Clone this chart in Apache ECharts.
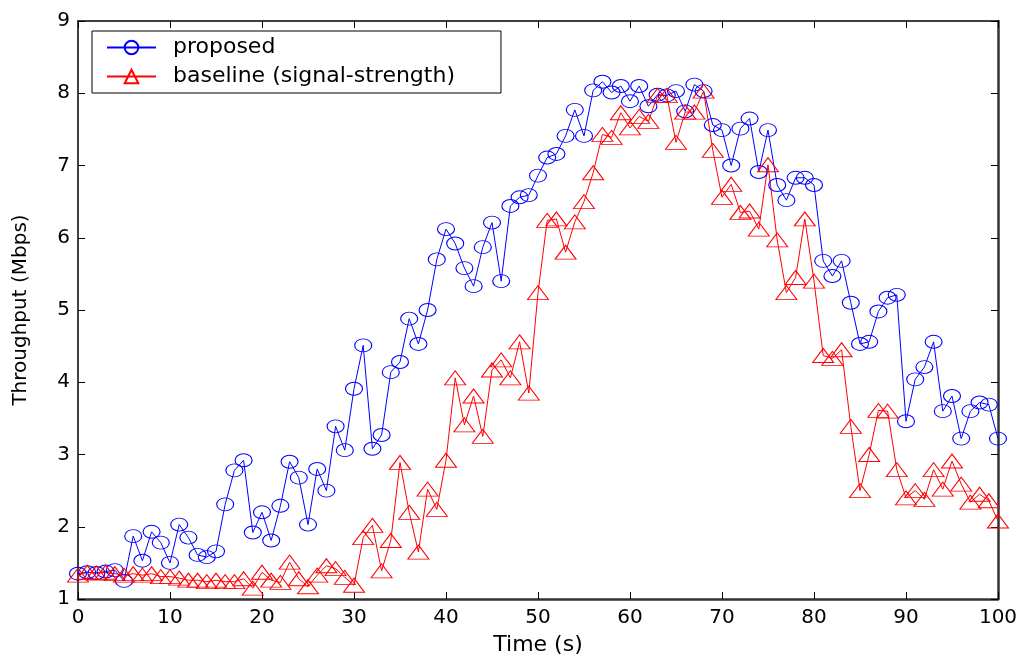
<!DOCTYPE html>
<html>
<head>
<meta charset="utf-8">
<script src="https://cdn.jsdelivr.net/npm/echarts@6/dist/echarts.min.js"></script>
<style>
html,body{margin:0;padding:0;background:#fff;}
#chart{width:1024px;height:661px;}
</style>
</head>
<body>
<div id="chart"></div>
<script>
var timeSteps = [];
for (var t = 0; t <= 100; t++) timeSteps.push(t);

var proposed = [
1.35,1.37,1.36,1.38,1.40,1.25,1.87,1.53,1.93,1.78,
1.50,2.03,1.85,1.61,1.58,1.66,2.31,2.78,2.92,1.92,
2.20,1.81,2.29,2.90,2.68,2.03,2.80,2.50,3.39,3.06,
3.91,4.51,3.08,3.27,4.14,4.28,4.88,4.53,5.00,5.70,
6.12,5.92,5.58,5.33,5.87,6.21,5.40,6.44,6.56,6.59,
6.86,7.11,7.16,7.41,7.77,7.41,8.04,8.16,8.01,8.10,
7.89,8.10,7.82,7.98,7.97,8.03,7.75,8.12,8.03,7.56,
7.49,7.00,7.51,7.65,6.91,7.49,6.73,6.52,6.83,6.83,
6.73,5.68,5.47,5.68,5.10,4.53,4.56,4.98,5.17,5.21,
3.46,4.04,4.21,4.56,3.60,3.81,3.22,3.60,3.72,3.69,
3.22
];

var baseline = [
1.33,1.37,1.36,1.37,1.35,1.33,1.35,1.33,1.35,1.31,
1.31,1.29,1.26,1.26,1.24,1.26,1.24,1.24,1.28,1.15,
1.37,1.26,1.23,1.51,1.28,1.17,1.33,1.46,1.42,1.30,
1.19,1.85,2.02,1.39,1.81,2.89,2.20,1.65,2.52,2.24,
2.92,4.06,3.41,3.81,3.25,4.17,4.31,4.06,4.56,3.85,
5.24,6.24,6.26,5.80,6.22,6.50,6.90,7.43,7.39,7.73,
7.52,7.68,7.61,7.97,7.97,7.32,7.74,7.74,8.03,7.21,
6.56,6.74,6.35,6.37,6.12,7.01,5.97,5.24,5.45,6.26,
5.40,4.37,4.33,4.45,3.39,2.50,3.00,3.61,3.60,2.79,
2.40,2.50,2.38,2.79,2.52,2.91,2.59,2.34,2.45,2.36,
2.08
];

var seriesNames = ['proposed', 'baseline (signal-strength)'];
var xTitle = 'Time (s)';
var yTitle = 'Throughput (Mbps)';

function pairs(xs, ys) {
  return xs.map(function (x, i) { return [x, ys[i]]; });
}

var FONT = 'DejaVu Sans';
var chart = echarts.init(document.getElementById('chart'), null, {renderer: 'canvas'});

var tickCommon = {show: true, inside: true, length: 7, lineStyle: {color: '#000', width: 1}};
var lineLeft = {show: true, onZero: false, lineStyle: {color: '#000', width: 1.5}};
var lineHeavy = {show: true, onZero: false, lineStyle: {color: '#333', width: 2.5}};

chart.setOption({
  animation: false,
  backgroundColor: '#fff',
  grid: {left: 78, right: 26, top: 21, bottom: 59, containLabel: false},
  legend: {
    orient: 'vertical',
    left: 92,
    top: 31,
    padding: [5, 46, 5, 14],
    itemGap: 6,
    itemWidth: 49,
    itemHeight: 17,
    backgroundColor: '#fff',
    borderColor: '#000',
    borderWidth: 1,
    borderRadius: 0,
    textStyle: {fontFamily: FONT, fontSize: 22, color: '#000', lineHeight: 23, padding: [0, 0, 0, 12]},
    data: seriesNames
  },
  xAxis: [{
    type: 'value', min: 0, max: 100, interval: 10, position: 'bottom',
    axisLine: lineHeavy, axisTick: tickCommon, splitLine: {show: false},
    axisLabel: {fontFamily: FONT, fontSize: 20, color: '#000', margin: 9},
    name: xTitle, nameLocation: 'middle', nameGap: 35,
    nameTextStyle: {fontFamily: FONT, fontSize: 22, color: '#000'}
  }, {
    type: 'value', min: 0, max: 100, interval: 10, position: 'top',
    axisLine: lineLeft, axisTick: tickCommon, splitLine: {show: false},
    axisLabel: {show: false}
  }],
  yAxis: [{
    type: 'value', min: 1, max: 9, interval: 1, position: 'left',
    axisLine: lineLeft, axisTick: tickCommon, splitLine: {show: false},
    axisLabel: {fontFamily: FONT, fontSize: 20, color: '#000', margin: 8},
    name: yTitle, nameLocation: 'middle', nameGap: 47, nameRotate: 90,
    nameTextStyle: {fontFamily: FONT, fontSize: 20, color: '#000'}
  }, {
    type: 'value', min: 1, max: 9, interval: 1, position: 'right',
    axisLine: lineHeavy, axisTick: tickCommon, splitLine: {show: false},
    axisLabel: {show: false}
  }],
  series: [{
    name: seriesNames[0], type: 'line', xAxisIndex: 0, yAxisIndex: 0,
    data: pairs(timeSteps, proposed),
    symbol: 'circle', symbolSize: [17, 13], showAllSymbol: true,
    lineStyle: {color: '#0000ff', width: 1},
    itemStyle: {color: 'rgba(255,255,255,0)', borderColor: '#0000ff', borderWidth: 1},
    emphasis: {disabled: true}
  }, {
    name: seriesNames[1], type: 'line', xAxisIndex: 0, yAxisIndex: 0,
    data: pairs(timeSteps, baseline),
    symbol: 'triangle', symbolSize: [21, 14], showAllSymbol: true,
    lineStyle: {color: '#ff0000', width: 1},
    itemStyle: {color: 'rgba(255,255,255,0)', borderColor: '#ff0000', borderWidth: 1},
    emphasis: {disabled: true}
  }]
});
</script>
</body>
</html>
